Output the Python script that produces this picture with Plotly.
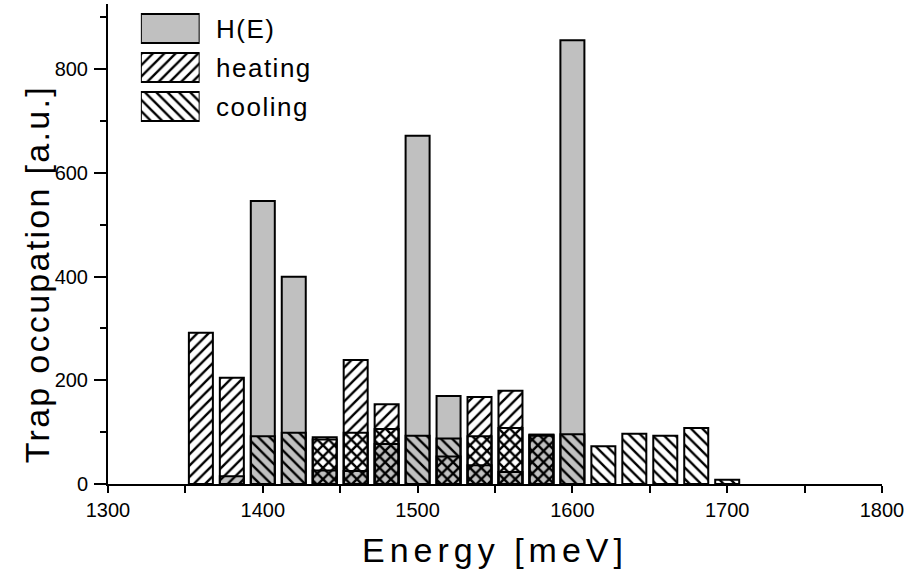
import plotly.graph_objects as go

# ---- data ----
energy = [1360, 1380, 1400, 1420, 1440, 1460, 1480, 1500, 1520,
          1540, 1560, 1580, 1600, 1620, 1640, 1660, 1680, 1700]
h_e = [0, 15, 546, 400, 26, 25, 77, 672, 170,
       36, 23, 93, 856, 0, 0, 0, 0, 0]
heating = [292, 205, 0, 0, 86, 239, 154, 0, 53,
           168, 180, 95, 0, 0, 0, 0, 0, 0]
cooling = [0, 0, 92, 99, 90, 99, 106, 93, 88,
           92, 108, 95, 96, 73, 97, 93, 108, 8]
series_names = ["H(E)", "heating", "cooling"]
x_tick_vals = [1300, 1400, 1500, 1600, 1700, 1800]
y_tick_vals = [0, 200, 400, 600, 800]

FONT = "Arial, Liberation Sans, Helvetica, sans-serif"
GRAY = "#c0c0c0"
BAR_W = 15.5

styles = {
    "H(E)": dict(color=GRAY, line=dict(color="black", width=2)),
    "heating": dict(color="black", line=dict(color="black", width=2),
                    pattern=dict(shape="/", fillmode="replace", size=8, solidity=0.3,
                                 bgcolor="rgba(0,0,0,0)", fgcolor="black")),
    "cooling": dict(color="black", line=dict(color="black", width=2),
                    pattern=dict(shape="\\", fillmode="replace", size=8, solidity=0.3,
                                 bgcolor="rgba(0,0,0,0)", fgcolor="black")),
}

W, H = 908, 575
L, R, T, B = 108, 23, 4, 91
pw, ph = W - L - R, H - T - B


def px_x(p):
    return (p - L) / pw


def px_y(p):
    return (H - B - p) / ph


def spaced(txt, sp):
    return '<span style="letter-spacing:%spx">%s</span>' % (sp, txt)


fig = go.Figure()
for name, vals in zip(series_names, [h_e, heating, cooling]):
    fig.add_trace(go.Bar(x=energy, y=vals, width=BAR_W, name=name,
                         marker=styles[name], showlegend=False,
                         xaxis="x", yaxis="y"))

# custom legend swatches (large boxes like the original)
legend_rows_px = [29, 68, 107]
annotations = []
for i, name in enumerate(series_names):
    fig.add_trace(go.Bar(x=[1], y=[i], base=0, orientation="h", width=0.74,
                         marker=styles[name], showlegend=False, hoverinfo="skip",
                         xaxis="x2", yaxis="y2"))
    annotations.append(dict(xref="paper", yref="paper", x=px_x(214),
                            y=px_y(legend_rows_px[i]), text=spaced(name, 1.5),
                            showarrow=False, xanchor="left", yanchor="middle",
                            font=dict(family=FONT, size=26, color="black")))

annotations += [
    dict(xref="paper", yref="paper", x=px_x(496), y=px_y(550),
         text=spaced("Energy [meV]", 5), showarrow=False, xanchor="center",
         yanchor="middle", font=dict(family=FONT, size=34, color="black")),
    dict(xref="paper", yref="paper", x=px_x(37), y=px_y(274),
         text=spaced("Trap occupation [a.u.]", 2.3), showarrow=False, textangle=-90,
         xanchor="center", yanchor="middle",
         font=dict(family=FONT, size=34, color="black")),
]

fig.update_layout(
    width=W, height=H,
    margin=dict(l=L, r=R, t=T, b=B),
    paper_bgcolor="white", plot_bgcolor="white",
    barmode="overlay",
    font=dict(family=FONT, color="black"),
    xaxis=dict(range=[1300, 1800], tickvals=x_tick_vals,
               showline=True, linecolor="black", linewidth=2,
               ticks="outside", ticklen=4, tickwidth=2, tickcolor="black",
               minor=dict(tick0=1300, dtick=50, ticks="outside", ticklen=7,
                          tickwidth=2, tickcolor="black"),
               showgrid=False, zeroline=False,
               tickfont=dict(family=FONT, size=20, color="black"),
               ticklabelstandoff=3),
    yaxis=dict(range=[0, 926], tickvals=y_tick_vals,
               showline=True, linecolor="black", linewidth=2,
               ticks="outside", ticklen=12, tickwidth=2, tickcolor="black",
               minor=dict(dtick=100, ticks="outside", ticklen=6,
                          tickwidth=2, tickcolor="black"),
               showgrid=False, zeroline=False,
               tickfont=dict(family=FONT, size=20, color="black"),
               ticklabelstandoff=2),
    xaxis2=dict(domain=[px_x(141), px_x(200)], range=[0, 1], anchor="y2",
                visible=False, fixedrange=True),
    yaxis2=dict(domain=[px_y(126), px_y(9)], range=[2.5, -0.5], anchor="x2",
                visible=False, fixedrange=True),
    annotations=annotations,
)

fig.write_html("out.html")
